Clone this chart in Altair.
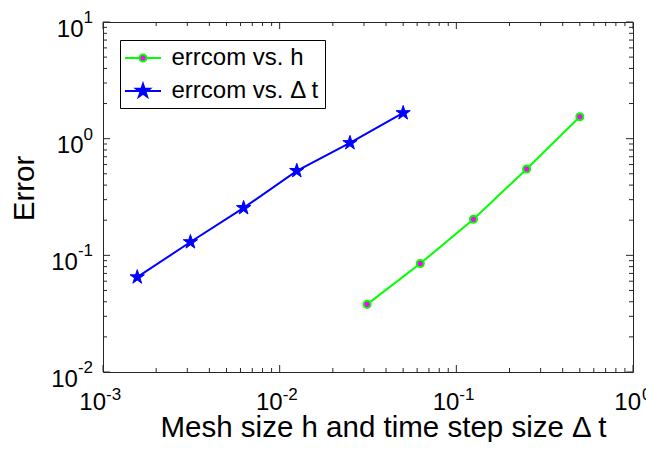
import altair as alt
import pandas as pd

# ---- data ----
h = [0.5, 0.25, 0.125, 0.0625, 0.03125]
err_h = [1.54, 0.55, 0.204, 0.085, 0.038]
dt = [0.05, 0.025, 0.0125, 0.00625, 0.003125, 0.0015625]
err_dt = [1.66, 0.92, 0.53, 0.255, 0.130, 0.065]
series_names = ["errcom vs. h", "errcom vs. \u0394 t"]

x_major = [1e-3, 1e-2, 1e-1, 1e0]
x_exp = ["-3", "-2", "-1", "0"]
y_major = [1e1, 1e0, 1e-1, 1e-2]
y_exp = ["1", "0", "-1", "-2"]
tick_base = "10"
x_title = "Mesh size h and time step size \u0394 t"
y_title = "Error"

mult = [2, 3, 4, 5, 6, 7, 8, 9]
x_minor = [m * d for d in x_major[:-1] for m in mult]
y_minor = [m * d for d in y_major[1:] for m in mult]

W, H = 530, 350
FONT = "Liberation Sans"
AX = "#262626"
MAJ, MIN = 7, 4

xs = alt.Scale(type="log", domain=[1e-3, 1], nice=False)
ys = alt.Scale(type="log", domain=[1e-2, 10], nice=False)

df_h = pd.DataFrame({"x": h, "y": err_h, "series": series_names[0]})
df_dt = pd.DataFrame({"x": dt, "y": err_dt, "series": series_names[1]})
df_all = pd.concat([df_h, df_dt])

STAR = ("M0,-1L0.2245,-0.309L0.9511,-0.309L0.3633,0.118L0.5878,0.809L0,0.382"
        "L-0.5878,0.809L-0.3633,0.118L-0.9511,-0.309L-0.2245,-0.309Z")
LEG_CIRCLE = ("M-1.44,0H-0.28M0.28,0H1.44M-0.28,0A0.28,0.28 0 1,0 0.28,0"
              "A0.28,0.28 0 1,0 -0.28,0Z")
LEG_STAR = ("M-1.44,0H1.44M0,-0.56L0.1257,-0.173L0.5326,-0.173L0.2034,0.0661"
            "L0.3292,0.453L0,0.2139L-0.3292,0.453L-0.2034,0.0661L-0.5326,-0.173"
            "L-0.1257,-0.173Z")

X = lambda f="x": alt.X(f"{f}:Q", scale=xs, title=x_title)
Y = lambda f="y": alt.Y(f"{f}:Q", scale=ys, title=y_title)

line_h = alt.Chart(df_h).mark_line(color="#00FF00", strokeWidth=2).encode(x=X(), y=Y())
pts_h = alt.Chart(df_h).mark_point(shape="circle", size=50, filled=False, fill="#FF00FF",
                                   stroke="#00FF00", strokeWidth=2, opacity=1).encode(x=X(), y=Y())
line_dt = alt.Chart(df_dt).mark_line(color="#0000FF", strokeWidth=2).encode(x=X(), y=Y())
pts_dt = alt.Chart(df_dt).mark_point(shape=STAR, size=225, filled=True, fill="#0000FF",
                                     stroke="#0000FF", strokeWidth=1, opacity=1).encode(x=X(), y=Y())

legend_layer = alt.Chart(df_all).mark_point(opacity=0, filled=True).encode(
    x=X(), y=Y(),
    shape=alt.Shape("series:N", scale=alt.Scale(domain=series_names, range=[LEG_CIRCLE, LEG_STAR]), title=None),
    fill=alt.Fill("series:N", scale=alt.Scale(domain=series_names, range=["#FF00FF", "#0000FF"]), title=None),
    stroke=alt.Stroke("series:N", scale=alt.Scale(domain=series_names, range=["#00FF00", "#0000FF"]), title=None),
)

# ticks (inward, all four sides)
xt_major = pd.DataFrame({"v": x_major})
xt_minor = pd.DataFrame({"v": x_minor})
yt_major = pd.DataFrame({"v": y_major})
yt_minor = pd.DataFrame({"v": y_minor})

def xticks(df, L):
    b = alt.Chart(df).mark_rule(color=AX, strokeWidth=1).encode(x=X("v"), y=alt.value(H), y2=alt.value(H - L))
    t = alt.Chart(df).mark_rule(color=AX, strokeWidth=1).encode(x=X("v"), y=alt.value(0), y2=alt.value(L))
    return [b, t]

def yticks(df, L):
    l = alt.Chart(df).mark_rule(color=AX, strokeWidth=1).encode(y=Y("v"), x=alt.value(0), x2=alt.value(L))
    r = alt.Chart(df).mark_rule(color=AX, strokeWidth=1).encode(y=Y("v"), x=alt.value(W), x2=alt.value(W - L))
    return [l, r]

ticks = xticks(xt_major, MAJ) + xticks(xt_minor, MIN) + yticks(yt_major, MAJ) + yticks(yt_minor, MIN)

# tick labels  10^k
xl = pd.DataFrame({"v": x_major, "e": x_exp, "b": tick_base})
yl = pd.DataFrame({"v": y_major, "e": y_exp, "b": tick_base})
xl_neg = xl[xl["e"].str.startswith("-")]
xl_pos = xl[~xl["e"].str.startswith("-")]
yl_neg = yl[yl["e"].str.startswith("-")]
yl_pos = yl[~yl["e"].str.startswith("-")]

BF, EF = 24, 17
XB, XE = H + 38, H + 28

def xlab(df, dxb, dxe):
    b = alt.Chart(df).mark_text(align="right", baseline="alphabetic", dx=dxb, font=FONT, fontSize=BF,
                                color="black").encode(x=X("v"), y=alt.value(XB), text="b:N")
    e = alt.Chart(df).mark_text(align="left", baseline="alphabetic", dx=dxe, font=FONT, fontSize=EF,
                                color="black").encode(x=X("v"), y=alt.value(XE), text="e:N")
    return [b, e]

def ylab(df, xb):
    b = alt.Chart(df).mark_text(align="right", baseline="alphabetic", dy=14.7, font=FONT, fontSize=BF,
                                color="black").encode(y=Y("v"), x=alt.value(xb), text="b:N")
    e = alt.Chart(df).mark_text(align="right", baseline="alphabetic", dy=1, font=FONT, fontSize=EF,
                                color="black").encode(y=Y("v"), x=alt.value(-10), text="e:N")
    return [b, e]

labels = xlab(xl_neg, 3, 3) + xlab(xl_pos, 8, 9) + ylab(yl_pos, -19.5) + ylab(yl_neg, -25.1)

chart = alt.layer(
    *ticks, *labels, line_h, pts_h, line_dt, pts_dt, legend_layer
).properties(
    width=W, height=H, autosize="none",
    padding={"left": 95, "top": 14, "right": 13, "bottom": 70},
).configure_view(
    stroke=AX, strokeWidth=1
).configure_axis(
    labels=False, ticks=False, domain=False, grid=False,
    titleFont=FONT, titleFontSize=29.5, titleFontWeight="normal", titleColor="black",
).configure_axisX(
    titleX=280, titleY=64, titleAlign="center", titleBaseline="alphabetic",
).configure_axisY(
    titleX=-70, titleY=166, titleAngle=270, titleAlign="center", titleBaseline="alphabetic",
).configure_legend(
    orient="none", legendX=17, legendY=18, strokeColor="black", fillColor="white",
    padding=4.5, symbolOffset=5, labelOffset=15, labelFont=FONT, labelFontSize=24,
    labelColor="black", symbolSize=625, symbolStrokeWidth=2, rowPadding=7,
    labelLimit=400, symbolOpacity=1,
)

chart.save("out.html", embed_options={"renderer": "svg", "actions": False})
